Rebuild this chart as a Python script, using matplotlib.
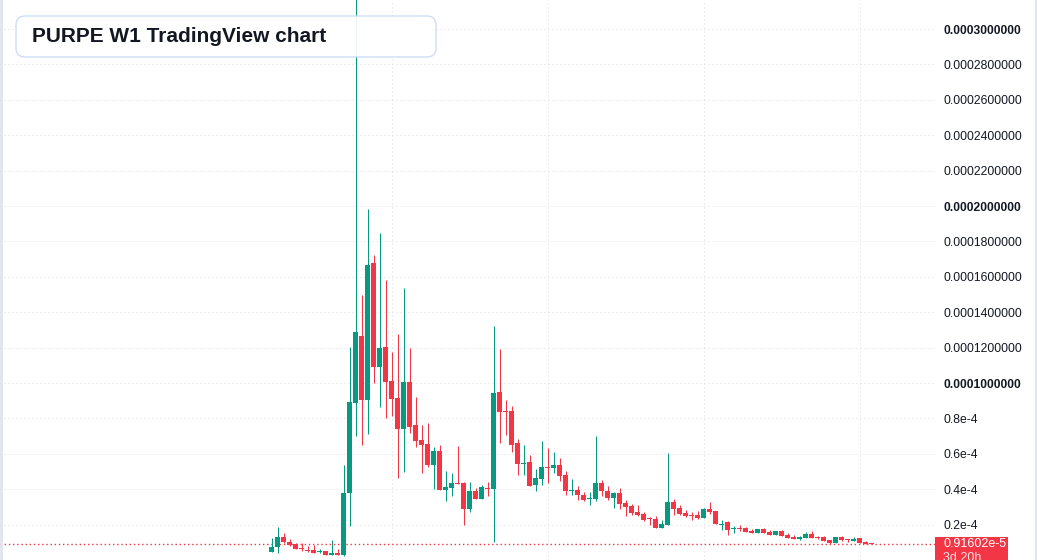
import matplotlib
matplotlib.use("Agg")
import matplotlib.pyplot as plt
import numpy as np
from matplotlib.patches import FancyBboxPatch, Rectangle
from matplotlib.lines import Line2D
from matplotlib.transforms import IdentityTransform

################################################################
# Weekly OHLC (units of 1e-5)
################################################################
opens = [0.47, 0.75, 1.30, 1.02, 0.90, 0.70, 0.58, 0.56, 0.47, 0.51,
         0.30, 0.41, 0.28, 3.80, 8.89, 12.67, 9.04, 16.80, 10.92, 12.05,
         10.11, 9.15, 7.38, 10.07, 7.63, 6.78, 6.55, 5.37, 6.16, 3.95,
         4.08, 4.35, 4.35, 2.88, 3.90, 3.46, 4.07, 4.01, 9.49, 8.44,
         8.44, 6.59, 5.42, 5.54, 4.24, 4.58, 5.25, 5.20, 5.37, 4.80,
         3.90, 3.95, 3.67, 3.45, 3.45, 4.35, 3.90, 3.50, 3.79, 3.22,
         3.05, 2.71, 2.60, 2.39, 2.32, 1.81, 1.98, 3.28, 2.94, 2.66,
         2.54, 2.54, 2.37, 2.88, 2.77, 1.99, 2.15, 1.77, 1.81, 1.81,
         1.66, 1.54, 1.75, 1.60, 1.43, 1.64, 1.43, 1.32, 1.20, 1.26,
         1.49, 1.32, 1.28, 1.13, 0.98, 1.28, 1.19, 1.09, 1.24, 1.03,
         0.95]
highs = [1.23, 1.86, 1.53, 1.19, 0.96, 0.96, 0.79, 0.85, 0.62, 0.51,
         1.13, 0.62, 5.37, 12.05, 34.0, 14.97, 19.83, 17.23, 18.49, 15.84,
         11.77, 12.77, 15.38, 11.96, 9.23, 7.63, 7.72, 6.40, 6.50, 5.03,
         4.92, 6.44, 4.40, 4.41, 4.07, 4.25, 4.41, 13.22, 11.90, 9.04,
         8.70, 6.84, 6.50, 5.91, 5.12, 6.72, 6.33, 6.10, 5.76, 5.03,
         4.58, 4.18, 3.84, 3.84, 7.01, 4.52, 4.18, 3.84, 4.07, 3.39,
         3.16, 3.11, 2.71, 2.43, 2.49, 2.26, 6.05, 3.45, 3.11, 2.82,
         2.71, 2.77, 2.94, 3.28, 2.77, 2.26, 2.20, 1.92, 1.98, 1.84,
         1.77, 1.77, 1.81, 1.71, 1.66, 1.71, 1.54, 1.39, 1.37, 1.56,
         1.64, 1.37, 1.35, 1.15, 1.30, 1.35, 1.19, 1.30, 1.24, 1.09,
         0.95]
lows = [0.47, 0.37, 0.96, 0.81, 0.64, 0.53, 0.47, 0.41, 0.41, 0.30,
        0.30, 0.30, 0.23, 1.94, 7.00, 6.50, 7.12, 10.02, 8.66, 8.04,
        8.14, 4.65, 4.99, 7.16, 6.37, 4.93, 5.24, 4.01, 3.95, 3.35,
        3.63, 4.29, 1.98, 2.71, 3.46, 3.46, 3.63, 1.03, 6.63, 7.06,
        6.12, 4.80, 4.80, 4.18, 3.90, 4.24, 4.33, 4.92, 4.48, 3.67,
        3.67, 3.39, 3.33, 3.12, 3.35, 3.62, 3.39, 2.94, 2.88, 2.49,
        2.54, 2.49, 2.20, 1.98, 1.81, 1.81, 1.98, 2.54, 2.54, 2.43,
        2.26, 2.32, 2.37, 2.60, 2.05, 1.71, 1.43, 1.54, 1.66, 1.60,
        1.54, 1.52, 1.52, 1.43, 1.43, 1.37, 1.24, 1.18, 1.15, 1.24,
        1.24, 1.18, 1.09, 0.89, 0.98, 1.09, 1.03, 1.09, 0.98, 0.92,
        0.916]
closes = [0.75, 1.30, 1.02, 0.86, 0.64, 0.64, 0.53, 0.41, 0.53, 0.30,
          0.41, 0.30, 3.80, 8.93, 12.88, 9.04, 16.67, 10.92, 11.99, 10.07,
          9.11, 7.38, 10.07, 7.53, 6.74, 6.50, 5.37, 6.16, 3.95, 4.12,
          4.35, 4.29, 2.88, 3.90, 3.46, 4.12, 4.01, 9.44, 8.38, 8.38,
          6.50, 5.42, 5.48, 4.18, 4.62, 5.25, 5.20, 5.37, 4.76, 3.90,
          3.97, 3.67, 3.39, 3.50, 4.35, 3.88, 3.50, 3.79, 3.16, 2.99,
          2.66, 2.54, 2.26, 2.33, 1.81, 2.03, 3.28, 2.88, 2.60, 2.49,
          2.49, 2.37, 2.88, 2.71, 2.05, 2.05, 1.71, 1.82, 1.75, 1.60,
          1.54, 1.75, 1.54, 1.43, 1.64, 1.37, 1.26, 1.20, 1.32, 1.49,
          1.26, 1.26, 1.09, 0.98, 1.28, 1.15, 1.13, 1.20, 0.98, 0.92,
          0.91602]

tick_values = [0.2e-4, 0.4e-4, 0.6e-4, 0.8e-4, 0.0001, 0.00012, 0.00014,
               0.00016, 0.00018, 0.0002, 0.00022, 0.00024, 0.00026,
               0.00028, 0.0003]
tick_labels = ['0.2e-4', '0.4e-4', '0.6e-4', '0.8e-4', '0.0001000000',
               '0.0001200000', '0.0001400000', '0.0001600000',
               '0.0001800000', '0.0002000000', '0.0002200000',
               '0.0002400000', '0.0002600000', '0.0002800000',
               '0.0003000000']
bold_labels = ['0.0001000000', '0.0002000000', '0.0003000000']
last_price_label = '0.91602e-5'
countdown_label = '3d 20h'
title = 'PURPE W1 TradingView chart'

UP = '#089981'
DOWN = '#f23645'
GRID = '#d9dce3'
TXT = '#131722'

o = np.array(opens) * 1e-5
h = np.array(highs) * 1e-5
l = np.array(lows) * 1e-5
c = np.array(closes) * 1e-5
idx = np.arange(len(o))
cols = np.where(c >= o, UP, DOWN)

plt.rcParams['font.family'] = ['Liberation Sans', 'DejaVu Sans']

fig = plt.figure(figsize=(10.37, 5.6), dpi=100)
ax = fig.add_axes([0, 0, 935 / 1037, 1])

# x: bar i sits at pixel 271.5 + 6*i
ax.set_xlim(-271.5 / 6, (935 - 271.5) / 6)
ax.set_ylim(0, 560 / 17.7 * 1e-5)

################################################################
# grid
################################################################
for v in tick_values:
    ax.axhline(v, color=GRID, lw=0.72, ls=(0, (1, 3)), zorder=0)
for xv in [20.08, 46.08, 72.08, 98.08]:
    ax.axvline(xv, color=GRID, lw=0.72, ls=(0, (1, 3)), zorder=0)

################################################################
# candles
################################################################
ax.vlines(idx, l, h, colors=cols, lw=0.75, zorder=2)
body_lo = np.minimum(o, c)
body_h = np.maximum(np.abs(c - o), 0.06e-5)
ax.bar(idx, body_h, bottom=body_lo, width=0.8, color=cols, lw=0, zorder=3)

# last price line
ax.axhline(c[-1], color=DOWN, lw=1.0, ls=(0, (1, 2)), zorder=1)

for s in ax.spines.values():
    s.set_visible(False)
ax.set_xticks([])
ax.yaxis.tick_right()
ax.set_yticks(tick_values)
ax.set_yticklabels(tick_labels)
ax.tick_params(axis='y', length=0, pad=5.8, labelsize=8.7, labelcolor=TXT)
for lab in ax.get_yticklabels():
    if lab.get_text() in bold_labels:
        lab.set_fontweight('bold')

################################################################
# price tag, title box, borders (pixel coords)
################################################################
px = IdentityTransform()
fig.patches.append(Rectangle((935, -5), 73, 28, transform=px,
                             facecolor=DOWN, edgecolor='none'))
fig.text(943 / 1037, 1 - 544 / 560, last_price_label, color='white',
         fontsize=9, va='center', ha='left')
fig.text(943 / 1037, 1 - 558 / 560, countdown_label, color='#fde2e4',
         fontsize=9, va='center', ha='left')

fig.patches.append(FancyBboxPatch((16, 560 - 57), 420, 41, transform=px,
                                  boxstyle='round,pad=0,rounding_size=9',
                                  facecolor='white', alpha=0.92,
                                  edgecolor='#c9daf3', lw=1.0, zorder=5))
fig.text(32 / 1037, 1 - 37 / 560, title, color=TXT, fontsize=15,
         fontweight='bold', va='center', ha='left', zorder=6)

fig.add_artist(Line2D([1.0, 1.0], [0, 560], transform=px, color='#e0e3eb', lw=2))
fig.add_artist(Line2D([1035.5, 1035.5], [0, 560], transform=px, color='#e0e3eb', lw=2))

fig.savefig('out.png', dpi=100)
